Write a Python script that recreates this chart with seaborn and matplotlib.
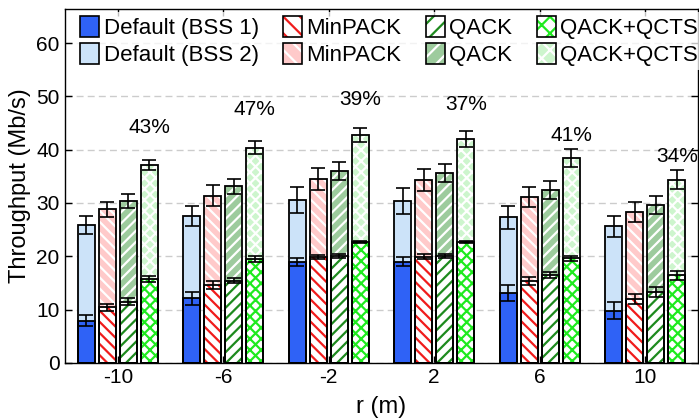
import numpy as np
import pandas as pd
import matplotlib
matplotlib.use("Agg")
import matplotlib.pyplot as plt
import matplotlib.patches as mpatches
from matplotlib.legend_handler import HandlerTuple
import seaborn as sns

# ---- data ----
r_labels = ['-10', '-6', '-2', '2', '6', '10']
methods = ['Default', 'MinPACK', 'QACK', 'QACK+QCTS']

bss1_default = [7.9, 12.1, 18.9, 19.0, 13.1, 9.8]
bss1_minpack = [10.4, 14.6, 19.8, 19.9, 15.4, 12.0]
bss1_qack = [11.5, 15.4, 20.0, 20.1, 16.5, 13.3]
bss1_qcts = [15.7, 19.5, 22.6, 22.6, 19.6, 16.4]

total_default = [25.9, 27.6, 30.6, 30.4, 27.3, 25.6]
total_minpack = [28.8, 31.4, 34.5, 34.3, 31.1, 28.3]
total_qack = [30.4, 33.1, 36.0, 35.7, 32.4, 29.6]
total_qcts = [37.1, 40.4, 42.75, 42.0, 38.5, 34.4]

err1_default = [1.0, 1.2, 0.8, 0.8, 1.5, 1.6]
err1_minpack = [0.7, 0.7, 0.4, 0.5, 0.8, 0.9]
err1_qack = [0.6, 0.5, 0.4, 0.4, 0.5, 0.85]
err1_qcts = [0.6, 0.5, 0.2, 0.2, 0.4, 0.8]

errt_default = [1.7, 1.9, 2.4, 2.4, 2.2, 2.0]
errt_minpack = [1.4, 1.9, 2.0, 2.0, 1.9, 1.9]
errt_qack = [1.3, 1.4, 1.65, 1.7, 1.7, 1.7]
errt_qcts = [1.0, 1.2, 1.4, 1.5, 1.7, 1.7]

pct_labels = ['43%', '47%', '39%', '37%', '41%', '34%']
pct_y = [42.4, 45.8, 47.7, 46.7, 40.9, 37.0]

# ---- styles ----
top_fill = ['#cce3f9', '#ffcaca', '#9dcb9d', '#cdf5cd']
bot_fill = ['#2f62f6', 'white', 'white', 'white']
bot_hatchc = ['#2f62f6', '#f01c1c', '#1e8a1e', '#1fea1f']
hatches = [None, '\\\\\\', '///', 'xxx']

sns.set_theme(style='white')
plt.rcParams['font.family'] = ['Liberation Sans', 'DejaVu Sans']
plt.rcParams['hatch.linewidth'] = 1.6
plt.rcParams['text.color'] = 'black'
plt.rcParams['axes.labelcolor'] = 'black'

rows = []
for i, m in enumerate(methods):
    b = [bss1_default, bss1_minpack, bss1_qack, bss1_qcts][i]
    t = [total_default, total_minpack, total_qack, total_qcts][i]
    e1 = [err1_default, err1_minpack, err1_qack, err1_qcts][i]
    et = [errt_default, errt_minpack, errt_qack, errt_qcts][i]
    for j, r in enumerate(r_labels):
        rows.append(dict(r=r, method=m, bss1=b[j], total=t[j], err1=e1[j], errt=et[j]))
df = pd.DataFrame(rows)

fig, ax = plt.subplots(figsize=(6.99, 4.19), dpi=100)
fig.subplots_adjust(left=0.093, right=0.9985, bottom=0.134, top=0.9785)


def method_index(p):
    xc = p.get_x() + p.get_width() / 2
    return int(round((xc - round(xc)) / 0.2 + 1.5)), int(round(xc))


# total (top segment) bars
n0 = len(ax.patches)
sns.barplot(data=df, x='r', y='total', hue='method', order=r_labels,
            hue_order=methods, palette=top_fill, width=0.8, gap=0.2,
            errorbar=None, legend=False, saturation=1, linewidth=0, ax=ax)
top_patches = ax.patches[n0:]
for p in top_patches:
    k, _ = method_index(p)
    p.set_facecolor(top_fill[k])
    if hatches[k]:
        p.set_hatch(hatches[k])
        p.set_edgecolor('white')
    p.set_linewidth(0)

# BSS 1 (bottom segment) bars
n1 = len(ax.patches)
sns.barplot(data=df, x='r', y='bss1', hue='method', order=r_labels,
            hue_order=methods, palette=bot_fill, width=0.8, gap=0.2,
            errorbar=None, legend=False, saturation=1, linewidth=0, ax=ax)
bot_patches = ax.patches[n1:]
for p in bot_patches:
    k, _ = method_index(p)
    p.set_facecolor(bot_fill[k])
    if hatches[k]:
        p.set_hatch(hatches[k])
    p.set_edgecolor(bot_hatchc[k])
    p.set_linewidth(0)

# outlines
for p in list(top_patches) + list(bot_patches):
    ax.add_patch(mpatches.Rectangle(p.get_xy(), p.get_width(), p.get_height(),
                                    fill=False, edgecolor='black', linewidth=1.3, zorder=3))

# error bars
lookup = {(row.r, row.method): row for row in df.itertuples()}
xs, ys, es = [], [], []
for p in top_patches:
    k, g = method_index(p)
    row = lookup[(r_labels[g], methods[k])]
    xc = p.get_x() + p.get_width() / 2
    xs += [xc, xc]
    ys += [row.total, row.bss1]
    es += [row.errt, row.err1]
ax.errorbar(xs, ys, yerr=es, fmt='none', ecolor='black', elinewidth=1.2,
            capsize=5.2, capthick=1.2, zorder=4)

# percent labels above QACK+QCTS bars
for p in top_patches:
    k, g = method_index(p)
    if k == 3:
        ax.text(p.get_x() + p.get_width() / 2, pct_y[g], pct_labels[g],
                ha='center', va='bottom', fontsize=15, color='black', zorder=5)

ax.set_xlim(-0.5, 5.5)
ax.set_ylim(0, 66.4)
ax.set_yticks([0, 10, 20, 30, 40, 50, 60])
ax.yaxis.grid(True, linestyle=(0, (5, 3)), color='#cccccc', linewidth=1.0)
ax.set_axisbelow(True)
for s in ax.spines.values():
    s.set_visible(True)
    s.set_color('black')
    s.set_linewidth(1.0)
ax.tick_params(axis='both', labelsize=15, colors='black', length=5, width=1,
               direction='in', top=True, right=True, bottom=True, left=True, pad=4)
ax.set_xlabel('r (m)', fontsize=17, labelpad=6, color='black')
ax.set_ylabel('Throughput (Mb/s)', fontsize=17, labelpad=4, color='black')

# legend
names1 = ['Default (BSS 1)', 'MinPACK', 'QACK', 'QACK+QCTS']
names2 = ['Default (BSS 2)', 'MinPACK', 'QACK', 'QACK+QCTS']
leg_hatch = [None, '\\\\', '//', 'xx']
handles, labels = [], []
for k in range(4):
    h1 = mpatches.Patch(facecolor=bot_fill[k], edgecolor=bot_hatchc[k],
                        hatch=leg_hatch[k], linewidth=0)
    h2 = mpatches.Patch(facecolor=top_fill[k], edgecolor='white',
                        hatch=leg_hatch[k], linewidth=0)
    ol = mpatches.Patch(facecolor='none', edgecolor='black', linewidth=1.2)
    handles += [(h1, ol), (h2, ol)]
    labels += [names1[k], names2[k]]
leg = ax.legend(handles, labels, ncol=4, loc='upper left',
                bbox_to_anchor=(0.01, 1.005), fontsize=16, frameon=True,
                framealpha=0.75, facecolor='white', edgecolor='none',
                handlelength=0.85, handleheight=1.1, handletextpad=0.2,
                columnspacing=1.1, labelspacing=0.15, borderpad=0.2,
                borderaxespad=0.2, labelcolor='black',
                handler_map={tuple: HandlerTuple(ndivide=1, pad=0)})

fig.savefig('out.png', dpi=100)
